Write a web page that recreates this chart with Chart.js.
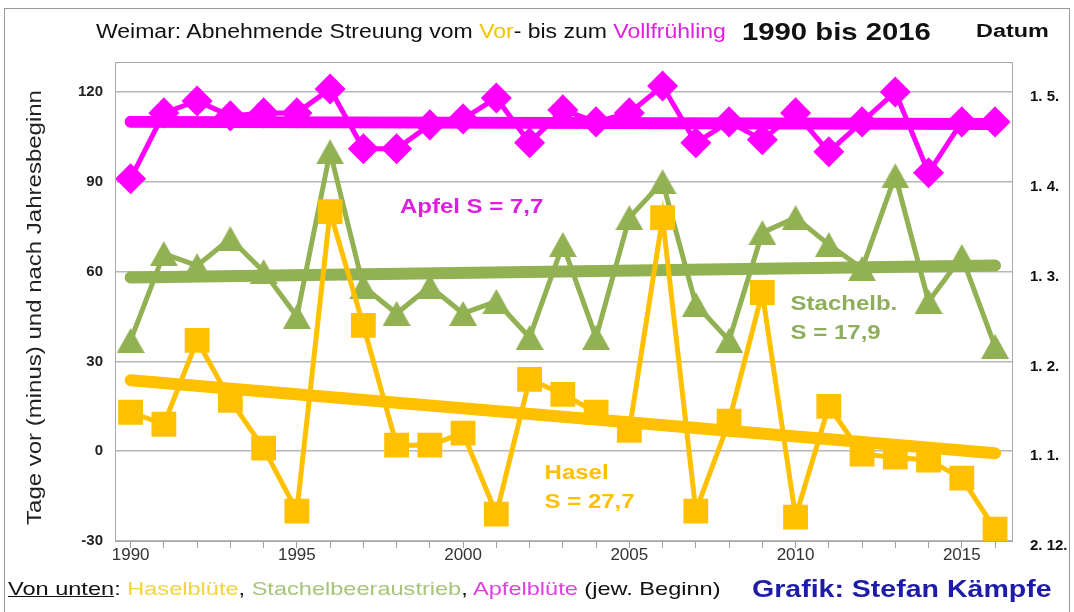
<!DOCTYPE html>
<html>
<head>
<meta charset="utf-8">
<script src="https://cdn.jsdelivr.net/npm/chart.js@4"></script>
<style>
body { margin: 0; background: #fff; width: 1074px; height: 612px; overflow: hidden; position: relative; font-family: "Liberation Sans", Arial, sans-serif; }
#rahmen { position: absolute; left: 4px; top: 8px; width: 1066px; height: 640px; border: 1px solid #9a9a9a; box-sizing: border-box; }
#grafik { position: absolute; left: 0; top: 0; }
.txt { position: absolute; white-space: nowrap; transform-origin: 0 0; }
</style>
</head>
<body>
<div id="rahmen"></div>
<canvas id="grafik" width="1074" height="612"></canvas>
<div class="txt" style="left:96px; top:20px; font-size:20px; color:#111; transform:scaleX(1.15);">Weimar: Abnehmende Streuung vom <span style="color:#f0c400">Vor</span>- bis zum <span style="color:#e020e0">Vollfrühling</span></div>
<div class="txt" style="left:742px; top:18px; font-size:24px; font-weight:bold; color:#111; transform:scaleX(1.22);">1990 bis 2016</div>
<div class="txt" style="left:976px; top:21px; font-size:18px; font-weight:bold; color:#111; transform:scaleX(1.3);">Datum</div>
<div class="txt" style="left:8px; top:578px; font-size:19px; color:#111; transform:scaleX(1.24);"><u>Von unten</u>: <span style="color:#f2d440">Haselblüte</span>, <span style="color:#a6c47a">Stachelbeeraustrieb</span>, <span style="color:#e040e0">Apfelblüte</span> (jew. Beginn)</div>
<div class="txt" style="left:752px; top:576px; font-size:23px; font-weight:bold; color:#1c1ca8; transform:scaleX(1.24);">Grafik: Stefan Kämpfe</div>
<script>
// Daten: Tage vor (minus) bzw. nach dem 1. Januar
const jahre = [1990, 1991, 1992, 1993, 1994, 1995, 1996, 1997, 1998, 1999, 2000, 2001, 2002, 2003,
    2004, 2005, 2006, 2007, 2008, 2009, 2010, 2011, 2012, 2013, 2014, 2015, 2016];
const hasel = [13, 9, 37, 17, 1, -20, 80, 42, 2, 2, 6, -21, 24, 19, 13, 7, 78, -20, 10, 53, -22, 15, -1, -2, -3, -9, -26];
const stachel = [37, 66, 62, 71, 60, 45, 100, 55, 46, 55, 46, 50, 38, 69, 38, 78, 90, 49, 37, 73, 78, 69, 61, 92, 50, 65, 35];
const apfel = [91, 113, 117, 112, 113, 113, 121, 101, 101, 109, 111, 118, 103, 114, 110, 113, 122, 103, 110, 104, 113, 100, 110, 120, 93, 110, 110];

// Trendlinien (Anfang und Ende)
const trendJahre = [1990, 2016];
const haselTrend = [23.7, -0.7];
const stachelTrend = [58, 62];
const apfelTrend = [110, 109.3];

// Achsen
const yWerte = [-30, 0, 30, 60, 90, 120];
const datumLabels = ['2. 12.', '1. 1.', '1. 2.', '1. 3.', '1. 4.', '1. 5.'];
const yTitel = 'Tage vor (minus) und nach Jahresbeginn';

const beschriftungen = [
    { text: 'Apfel S = 7,7', x: 1998.1, y: 81.3, farbe: '#e01ee0' },
    { text: 'Stachelb.', x: 2009.85, y: 49, farbe: '#8fae5c' },
    { text: 'S = 17,9', x: 2009.85, y: 39.3, farbe: '#8fae5c' },
    { text: 'Hasel', x: 2002.45, y: -7.3, farbe: '#ffc000' },
    { text: 'S = 27,7', x: 2002.45, y: -17.3, farbe: '#ffc000' }
];

const GELB = '#ffc000';
const GRUEN = '#91b153';
const PINK = '#ff00ff';
const SCHRIFT = '"Liberation Sans", Arial, sans-serif';

function punkte(xs, ys) {
    return xs.map((x, i) => ({ x: x, y: ys[i] }));
}

function dreieck(breite, hoehe, farbe) {
    const c = document.createElement('canvas');
    c.width = breite;
    c.height = hoehe;
    const g = c.getContext('2d');
    g.fillStyle = farbe;
    g.beginPath();
    g.moveTo(breite / 2, 0);
    g.lineTo(breite, hoehe);
    g.lineTo(0, hoehe);
    g.closePath();
    g.fill();
    return c;
}

const rahmenPlugin = {
    id: 'rahmen',
    afterDraw(chart) {
        const { ctx, chartArea, scales } = chart;
        ctx.save();
        ctx.strokeStyle = '#a8a8a8';
        ctx.lineWidth = 1;
        ctx.strokeRect(chartArea.left + 0.5, chartArea.top + 0.5, chartArea.right - chartArea.left, chartArea.bottom - chartArea.top);

        // Achsentitel links, etwas gestreckt wie im Original
        ctx.save();
        ctx.translate(35, (chartArea.top + chartArea.bottom) / 2 + 6);
        ctx.rotate(-Math.PI / 2);
        ctx.scale(1.2, 1);
        ctx.font = '20px ' + SCHRIFT;
        ctx.fillStyle = '#222';
        ctx.textAlign = 'center';
        ctx.textBaseline = 'middle';
        ctx.fillText(yTitel, 0, 0);
        ctx.restore();

        ctx.font = 'bold 20px ' + SCHRIFT;
        ctx.textBaseline = 'middle';
        ctx.textAlign = 'left';
        beschriftungen.forEach(b => {
            const px = scales.x.getPixelForValue(b.x);
            const py = scales.y.getPixelForValue(b.y);
            ctx.save();
            ctx.translate(px, py);
            ctx.scale(1.2, 1);
            ctx.fillStyle = b.farbe;
            ctx.fillText(b.text, 0, 0);
            ctx.restore();
        });
        ctx.restore();
    }
};

const ctx = document.getElementById('grafik').getContext('2d');
new Chart(ctx, {
    type: 'line',
    data: {
        datasets: [
            { data: punkte(trendJahre, apfelTrend), borderColor: PINK, borderWidth: 12, borderCapStyle: 'round', pointRadius: 0, order: 0 },
            { data: punkte(jahre, apfel), borderColor: PINK, backgroundColor: PINK, borderWidth: 5, pointStyle: 'rectRot', pointRadius: 12, order: 1 },
            { data: punkte(trendJahre, haselTrend), borderColor: GELB, borderWidth: 12, borderCapStyle: 'round', pointRadius: 0, order: 2 },
            { data: punkte(jahre, hasel), borderColor: GELB, backgroundColor: GELB, borderWidth: 5, pointStyle: 'rect', pointRadius: 14, order: 3 },
            { data: punkte(trendJahre, stachelTrend), borderColor: GRUEN, borderWidth: 12, borderCapStyle: 'round', pointRadius: 0, order: 4 },
            { data: punkte(jahre, stachel), borderColor: GRUEN, backgroundColor: GRUEN, borderWidth: 5, pointStyle: dreieck(28, 25, GRUEN), order: 5 }
        ]
    },
    options: {
        responsive: false,
        animation: false,
        layout: { padding: { top: 62, left: 0, right: 0, bottom: 0 } },
        plugins: { legend: { display: false }, tooltip: { enabled: false } },
        elements: { line: { tension: 0 }, point: { borderWidth: 1 } },
        scales: {
            x: {
                type: 'linear',
                min: 1989.53,
                max: 2016.51,
                afterBuildTicks: s => { s.ticks = jahre.map(j => ({ value: j })); },
                afterFit: s => { s.height = 71; },
                grid: { drawOnChartArea: false, drawTicks: true, tickLength: 7, color: '#a0a0a0' },
                border: { color: '#a0a0a0' },
                ticks: {
                    autoSkip: false,
                    maxRotation: 0,
                    padding: -3,
                    color: '#333',
                    font: { family: SCHRIFT, size: 17 },
                    callback: v => (v % 5 === 0 ? String(v) : '')
                }
            },
            y: {
                min: -30,
                max: 130,
                afterBuildTicks: s => { s.ticks = yWerte.map(v => ({ value: v })); },
                afterFit: s => { s.width = 115; },
                grid: { color: '#b8b8b8', lineWidth: 1.5, drawTicks: false },
                border: { color: '#a0a0a0' },
                ticks: {
                    padding: 12,
                    color: '#222',
                    font: { family: SCHRIFT, size: 15, weight: 'bold' }
                }
            },
            y2: {
                position: 'right',
                min: -30,
                max: 130,
                afterBuildTicks: s => { s.ticks = yWerte.map(v => ({ value: v })); },
                afterFit: s => { s.width = 62; },
                grid: { drawOnChartArea: false, drawTicks: false },
                border: { color: '#a0a0a0' },
                ticks: {
                    padding: 18,
                    labelOffset: 5,
                    color: '#111',
                    font: { family: SCHRIFT, size: 15, weight: 'bold' },
                    callback: v => datumLabels[yWerte.indexOf(v)]
                }
            }
        }
    },
    plugins: [rahmenPlugin]
});
</script>
</body>
</html>
